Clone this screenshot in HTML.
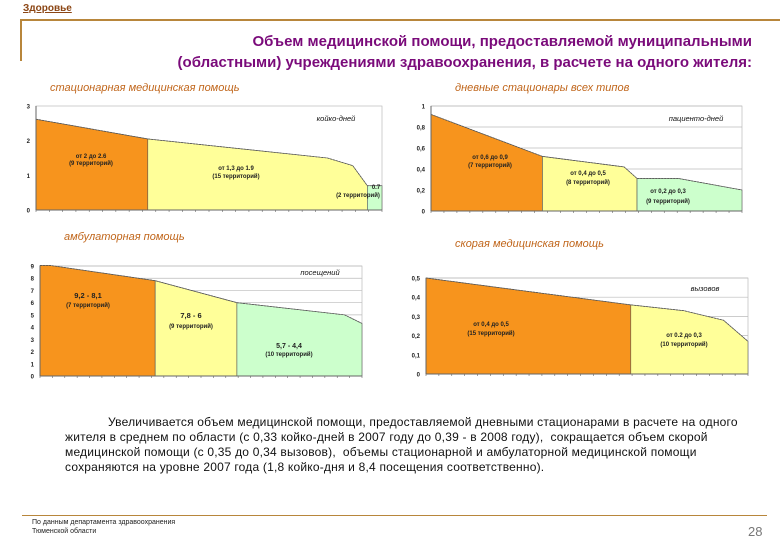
<!DOCTYPE html>
<html><head><meta charset="utf-8">
<style>
body{margin:0;width:780px;height:540px;background:#fff;overflow:hidden;position:relative;font-family:"Liberation Sans",sans-serif}
.abs{position:absolute;white-space:nowrap}
.sub{font-style:italic;color:#C0651A;font-size:11px}
.title{color:#7A0A7A;font-weight:bold;font-size:15px;text-align:right;right:28px;line-height:21px}
.para{left:65px;top:415px;font-size:12px;line-height:15px;color:#111;letter-spacing:0.2px}
</style></head><body>
<div class="abs" style="left:23px;top:3px;font-size:10px;font-weight:bold;color:#8B4513;text-decoration:underline">Здоровье</div>
<div class="abs" style="left:20px;top:19px;width:760px;height:2px;background:#B8863B"></div>
<div class="abs" style="left:20px;top:19px;width:2px;height:42px;background:#B8863B"></div>
<div class="abs title" style="top:31px">Объем медицинской помощи, предоставляемой муниципальными<br>(областными) учреждениями здравоохранения, в расчете на одного жителя:</div>
<div class="abs sub" style="left:50px;top:82px">стационарная медицинская помощь</div>
<div class="abs sub" style="left:455px;top:82px">дневные стационары всех типов</div>
<div class="abs sub" style="left:64px;top:231px">амбулаторная помощь</div>
<div class="abs sub" style="left:455px;top:238px">скорая медицинская помощь</div>
<svg class="abs" style="left:0;top:0" width="780" height="540" id="charts"></svg>
<div class="abs para"><span style="padding-left:43px"></span>Увеличивается объем медицинской помощи, предоставляемой дневными стационарами в расчете на одного<br>жителя в среднем по области (с 0,33 койко-дней в 2007 году до 0,39 - в 2008 году), &nbsp;сокращается объем скорой<br>медицинской помощи (с 0,35 до 0,34 вызовов), &nbsp;объемы стационарной и амбулаторной медицинской помощи<br>сохраняются на уровне 2007 года (1,8 койко-дня и 8,4 посещения соответственно).</div>
<div class="abs" style="left:22px;top:515px;width:745px;height:1px;background:#B8863B"></div>
<div class="abs" style="left:32px;top:518px;font-size:7px;line-height:9px;color:#222">По данным департамента здравоохранения<br>Тюменской области</div>
<div class="abs" style="left:748px;top:524px;font-size:13px;color:#777">28</div>
<script>
// Chart 1: стационарная
const c1Ticks=["0","1","2","3"];const c1TickVals=[0,1,2,3];
const c1X=[0,8.4,21.9,23.8,24.9,26];const c1Y=[2.62,2.05,1.5,1.28,0.7,0.7];
const c1Bands=[0,8.4,24.9,26];
// Chart 2: дневные стационары
const c2Ticks=["0","0,2","0,4","0,6","0,8","1"];const c2TickVals=[0,0.2,0.4,0.6,0.8,1];
const c2X=[0,8.6,14.9,15.9,19.1,24];const c2Y=[0.92,0.52,0.42,0.31,0.31,0.2];
const c2Bands=[0,8.6,15.9,24];
// Chart 3: амбулаторная
const c3Ticks=["0","1","2","3","4","5","6","7","8","9"];const c3TickVals=[0,1,2,3,4,5,6,7,8,9];
const c3X=[0,0.8,9.3,15.9,24.6,26];const c3Y=[9.05,9.05,7.8,6.0,5.0,4.3];
const c3Bands=[0,9.3,15.9,26];
// Chart 4: скорая
const c4Ticks=["0","0,1","0,2","0,3","0,4","0,5"];const c4TickVals=[0,0.1,0.2,0.3,0.4,0.5];
const c4X=[0,15.9,20,23.1,25];const c4Y=[0.5,0.36,0.33,0.28,0.17];
const c4Bands=[0,15.9,25];

const colors=["#F7941D","#FFFF99","#CCFFCC"];
const svg=document.getElementById('charts');const NS="http://www.w3.org/2000/svg";
function mk(t,a){const e=document.createElementNS(NS,t);for(const k in a)e.setAttribute(k,a[k]);svg.appendChild(e);return e;}
function chart(id,box,xs,ys,bands,tickV,tickL,yMax,xMax,grid,unit,labels){
  const [L,T,R,B]=box;
  const sx=v=>L+(v/xMax)*(R-L), sy=v=>B-(v/yMax)*(B-T);
  const fr=mk('rect',{x:L,y:T,width:R-L,height:B-T,fill:'#fff',stroke:'#bbb','stroke-width':0.7});
  
  tickV.forEach((v,i)=>{
    if(grid&&v>0){const g=mk('line',{x1:L,x2:R,y1:sy(v),y2:sy(v),stroke:'#bbb','stroke-width':0.7});}
    const t=mk('text',{x:L-6,y:sy(v)+2.5,'font-size':6,'font-weight':'bold','text-anchor':'end',fill:'#222'});t.textContent=tickL[i];
    
  });
  const yAt=x=>{for(let i=0;i<xs.length-1;i++){if(x>=xs[i]&&x<=xs[i+1]){const f=(x-xs[i])/((xs[i+1]-xs[i])||1);return ys[i]+f*(ys[i+1]-ys[i]);}}return ys[ys.length-1];};
  for(let b=0;b<bands.length-1;b++){
    const a=bands[b],e=bands[b+1];let pts=[[sx(a),sy(0)],[sx(a),sy(yAt(a+1e-6))]];
    xs.forEach((x,i)=>{if(x>a&&x<e)pts.push([sx(x),sy(ys[i])]);});
    pts.push([sx(e),sy(yAt(e-1e-6))],[sx(e),sy(0)]);
    const p=mk('polygon',{points:pts.map(q=>q.join(',')).join(' '),fill:colors[b],stroke:'#555','stroke-width':0.6});
    
  }
  const ln=mk('polyline',{points:xs.map((x,i)=>sx(x)+','+sy(ys[i])).join(' '),fill:'none',stroke:'#555','stroke-width':0.8,'stroke-dasharray':'2,1'});
  
  const ax=mk('line',{x1:L,x2:R,y1:B,y2:B,stroke:'#666','stroke-width':1});
  const ay=mk('line',{x1:L,x2:L,y1:T,y2:B,stroke:'#666','stroke-width':1});
  for(let i=0;i<=xMax;i++){const tk=mk('line',{x1:sx(i),x2:sx(i),y1:B,y2:B+2,stroke:'#666','stroke-width':0.6});}
  const u=mk('text',{x:unit[0],y:unit[1],'font-size':7.5,'font-style':'italic','text-anchor':'middle',fill:'#111'});u.textContent=unit[2];
  
  labels.forEach(l=>{const t=mk('text',{x:l[0],y:l[1],'font-size':l[3]||6,'font-weight':'bold','text-anchor':'middle',fill:'#222'});t.textContent=l[2];
    });
}
chart('chart1',[36,106,382,210],c1X,c1Y,c1Bands,c1TickVals,c1Ticks,3,26,false,[336,121,'койко-дней'],
 [[91,158,'от 2 до 2.6'],[91,165,'(9 территорий)'],[236,170,'от 1,3 до 1.9'],[236,178,'(15 территорий)'],[376,189,'0.7'],[358,197,'(2 территорий)']]);
chart('chart2',[431,106,742,211],c2X,c2Y,c2Bands,c2TickVals,c2Ticks,1,24,true,[696,121,'пациенто-дней'],
 [[490,159,'от 0,6 до 0,9'],[490,167,'(7 территорий)'],[588,175,'от 0,4 до 0,5'],[588,184,'(8 территорий)'],[668,193,'от 0,2 до 0,3'],[668,203,'(9 территорий)']]);
chart('chart3',[40,266,362,376],c3X,c3Y,c3Bands,c3TickVals,c3Ticks,9,26,true,[320,275,'посещений'],
 [[88,298,'9,2 - 8,1',7.5],[88,307,'(7 территорий)'],[191,318,'7,8 - 6',7.5],[191,328,'(9 территорий)'],[289,348,'5,7 - 4,4',7],[289,356,'(10 территорий)']]);
chart('chart4',[426,278,748,374],c4X,c4Y,c4Bands,c4TickVals,c4Ticks,0.5,25,true,[705,291,'вызовов'],
 [[491,326,'от 0,4 до 0,5'],[491,335,'(15 территорий)'],[684,337,'от 0.2 до 0,3'],[684,346,'(10 территорий)']]);
</script>
</body></html>
